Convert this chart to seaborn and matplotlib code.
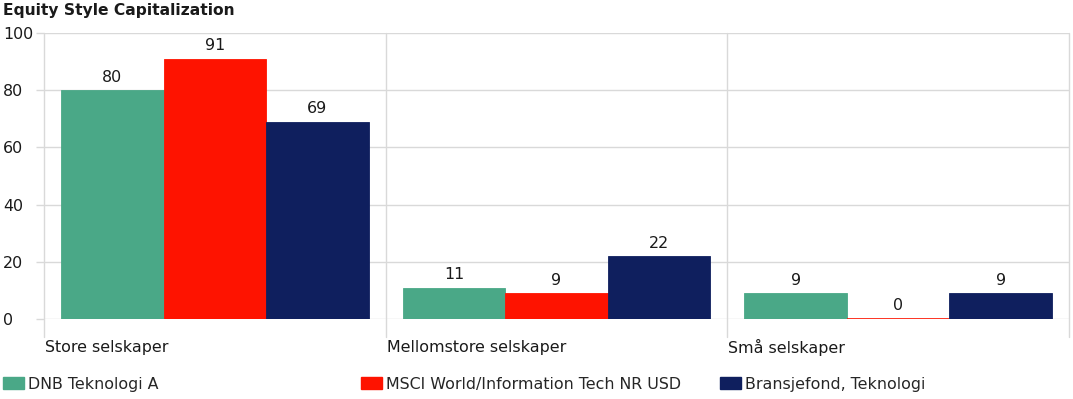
import pandas as pd
import matplotlib.pyplot as plt
import matplotlib.transforms as mtransforms
from matplotlib.patches import Patch
import seaborn as sns

sns.set_theme(style="white")
plt.rcParams["font.family"] = ["DejaVu Sans"]

# ---------------------------------------------------------------
# DATA
# ---------------------------------------------------------------
categories = ["Store selskaper", "Mellomstore selskaper", "Små selskaper"]
series = ["DNB Teknologi A", "MSCI World/Information Tech NR USD", "Bransjefond, Teknologi"]
dnb = [80, 11, 9]
msci = [91, 9, 0]
bransje = [69, 22, 9]
colors = ["#4aa887", "#fe1300", "#0f1f5e"]
yticks = [0, 20, 40, 60, 80, 100]

df = pd.DataFrame({
    "category": categories * 3,
    "series": [series[0]] * 3 + [series[1]] * 3 + [series[2]] * 3,
    "value": dnb + msci + bransje,
})

grid_c = "#d9d9d9"
txt_c = "#1a1a1a"
fs = 11.4

fig = plt.figure(figsize=(10.73, 3.99), dpi=100)
ax = fig.add_axes([44 / 1073, 1 - 319 / 399, (1069 - 44) / 1073, (319 - 33) / 399])

sns.barplot(data=df, x="category", y="value", hue="series", order=categories,
            hue_order=series, palette=colors, width=0.9, saturation=1,
            legend=False, ax=ax)

for p in ax.patches:
    p.set_edgecolor(p.get_facecolor())
    p.set_linewidth(0.6)
    # zero-height bars still show as a thin coloured line
    if p.get_height() == 0:
        ax.plot([p.get_x(), p.get_x() + p.get_width()], [0, 0],
                color=p.get_facecolor(), lw=1.2, zorder=3, solid_capstyle="butt")

for cont in ax.containers:
    ax.bar_label(cont, fmt="%g", padding=4, fontsize=fs, color=txt_c)

ax.set_xlim(-0.5, 2.5)
ax.set_ylim(0, 100)
ax.set_yticks(yticks)
ax.set_xticks([])
ax.set_xlabel("")
ax.set_ylabel("")
for s in ax.spines.values():
    s.set_visible(False)

# horizontal gridlines + tick stubs
for y in yticks:
    ax.axhline(y, color=grid_c, lw=1, zorder=0)
ax.tick_params(axis="y", length=6, color=grid_c, width=1, pad=23.5,
               labelsize=fs, labelcolor=txt_c, left=True)
for lbl in ax.get_yticklabels():
    lbl.set_horizontalalignment("left")

# vertical group separators, extending below the axis
for x in [-0.5, 0.5, 1.5, 2.5]:
    ax.plot([x, x], [-6.3, 100], color=grid_c, lw=1, clip_on=False, zorder=0)

# category labels, left aligned under each group
trans = mtransforms.blended_transform_factory(ax.transData, ax.transAxes)
for i, c in enumerate(categories):
    ax.text(i - 0.497, -0.1, c, transform=trans, ha="left", va="center",
            fontsize=fs, color=txt_c)

fig.text(3 / 1073, 1 - 11 / 399, "Equity Style Capitalization", fontsize=11.2,
         fontweight="bold", color=txt_c, ha="left", va="center")

# legend entries spread across the bottom
legend_x = [0 / 1073, 358 / 1073, 717 / 1073]
for s, c, lx in zip(series, colors, legend_x):
    fig.legend(handles=[Patch(facecolor=c, edgecolor=c)], labels=[s],
               loc="center left", bbox_to_anchor=(lx, 1 - 384 / 399),
               frameon=False, fontsize=fs, handlelength=1.3, handleheight=0.8,
               handletextpad=0.25, borderaxespad=0, borderpad=0.2)

fig.savefig("out.png", dpi=100)
